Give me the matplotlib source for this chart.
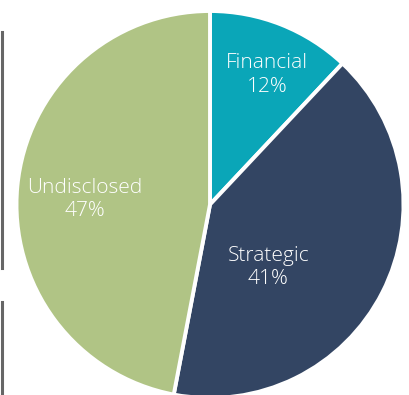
import matplotlib
matplotlib.use("Agg")
import matplotlib.pyplot as plt
from matplotlib.lines import Line2D

categories = ["Financial", "Strategic", "Undisclosed"]
shares = [12, 41, 47]
colors = ["#0AA6B8", "#334563", "#B0C485"]

W, H = 410, 395
fig = plt.figure(figsize=(W / 100, H / 100), dpi=100)
ax = fig.add_axes([0, 0, 1, 1])

labels = [f"{c}\n{v}%" for c, v in zip(categories, shares)]
wedges, texts = ax.pie(
    shares, colors=colors, startangle=90, counterclock=False,
    center=(210, 190.5), radius=193.5, labels=labels, labeldistance=0.7,
    wedgeprops=dict(edgecolor="white", linewidth=2.8),
    textprops=dict(color="white", fontsize=15, family="Open Sans",
                   fontweight=300, ha="center", va="center", linespacing=1.2),
    frame=True,
)
ax.set_xlim(0, W)
ax.set_ylim(0, H)
ax.set_aspect("equal")
ax.axis("off")

label_pos = [(267, 320), (268.5, 128), (84.5, 195)]
for t, p in zip(texts, label_pos):
    t.set_position(p)
    t.set_horizontalalignment("center")

for y0, y1 in [(H - 32, H - 268), (H - 302, 0)]:
    fig.add_artist(Line2D([2 / W, 2 / W], [y0 / H, y1 / H], color="#666666",
                          linewidth=2.2, transform=fig.transFigure))

fig.savefig("out.png", dpi=100)
